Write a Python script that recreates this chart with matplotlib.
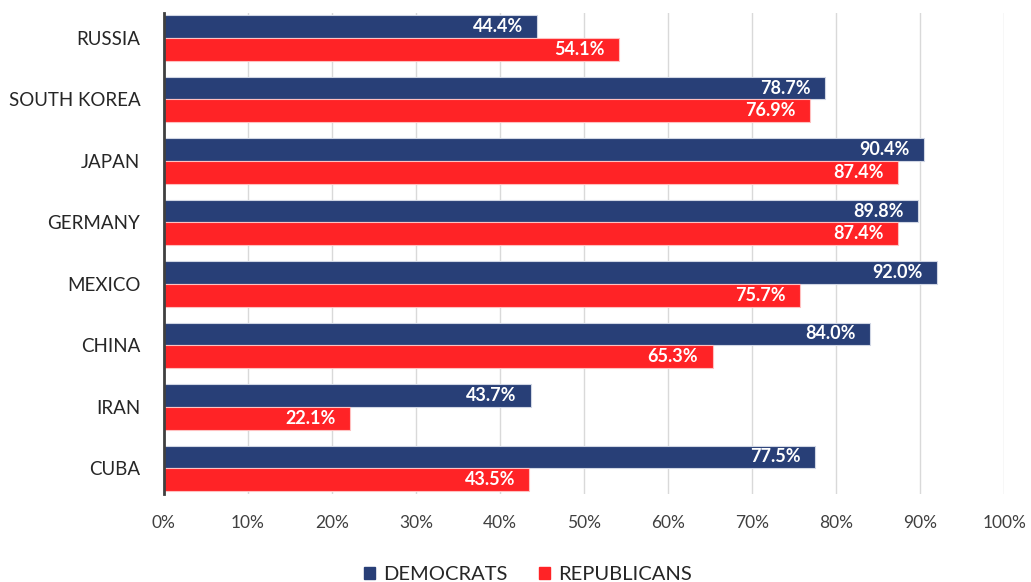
import numpy as np
import matplotlib.pyplot as plt
from matplotlib.patches import Patch

countries = ["RUSSIA", "SOUTH KOREA", "JAPAN", "GERMANY", "MEXICO", "CHINA", "IRAN", "CUBA"]
democrats = [44.4, 78.7, 90.4, 89.8, 92.0, 84.0, 43.7, 77.5]
republicans = [54.1, 76.9, 87.4, 87.4, 75.7, 65.3, 22.1, 43.5]

dem_color = "#283f77"
rep_color = "#ff2326"

plt.rcParams["font.family"] = ["Lato", "DejaVu Sans"]

fig = plt.figure(figsize=(10.31, 5.82), dpi=100)
ax = fig.add_axes([0.159, 0.151, 0.815, 0.826])

y = np.arange(len(countries))[::-1]
h = 0.37
ax.barh(y + h / 2, democrats, height=h, color=dem_color, edgecolor="#d0d6e4", linewidth=0.8, zorder=3)
ax.barh(y - h / 2, republicans, height=h, color=rep_color, edgecolor="#ffc0c0", linewidth=0.8, zorder=3)

for yi, d, r in zip(y, democrats, republicans):
    ax.text(d - 1.7, yi + h / 2, f"{d:.1f}%", ha="right", va="center",
            color="white", fontsize=13, fontweight="bold", zorder=4)
    ax.text(r - 1.7, yi - h / 2, f"{r:.1f}%", ha="right", va="center",
            color="white", fontsize=13, fontweight="bold", zorder=4)

ax.set_xlim(0, 100)
ax.set_ylim(-0.42, 7.4)
ax.set_xticks(np.arange(0, 101, 10))
ax.set_xticklabels([f"{v}%" for v in range(0, 101, 10)], fontsize=12.5, color="#404040")
ax.set_yticks(y)
ax.set_yticklabels(countries, fontsize=13.5, color="#262626")
ax.tick_params(axis="x", length=0, pad=15)
ax.tick_params(axis="y", length=0, pad=17)

ax.grid(axis="x", color="#d9d9d9", linewidth=1, zorder=0)
for s in ["top", "right", "bottom"]:
    ax.spines[s].set_visible(False)
ax.spines["left"].set_color("#404040")
ax.spines["left"].set_linewidth(2)
ax.spines["left"].set_zorder(5)

handles = [Patch(color=dem_color, label="DEMOCRATS"), Patch(color=rep_color, label="REPUBLICANS")]
fig.legend(handles=handles, loc="lower center", bbox_to_anchor=(0.512, -0.033), ncol=2,
           frameon=False, fontsize=14.5, handlelength=0.55, handleheight=0.55,
           handletextpad=0.4, columnspacing=1.6, labelcolor="#262626")

fig.savefig("out.png", dpi=100)
